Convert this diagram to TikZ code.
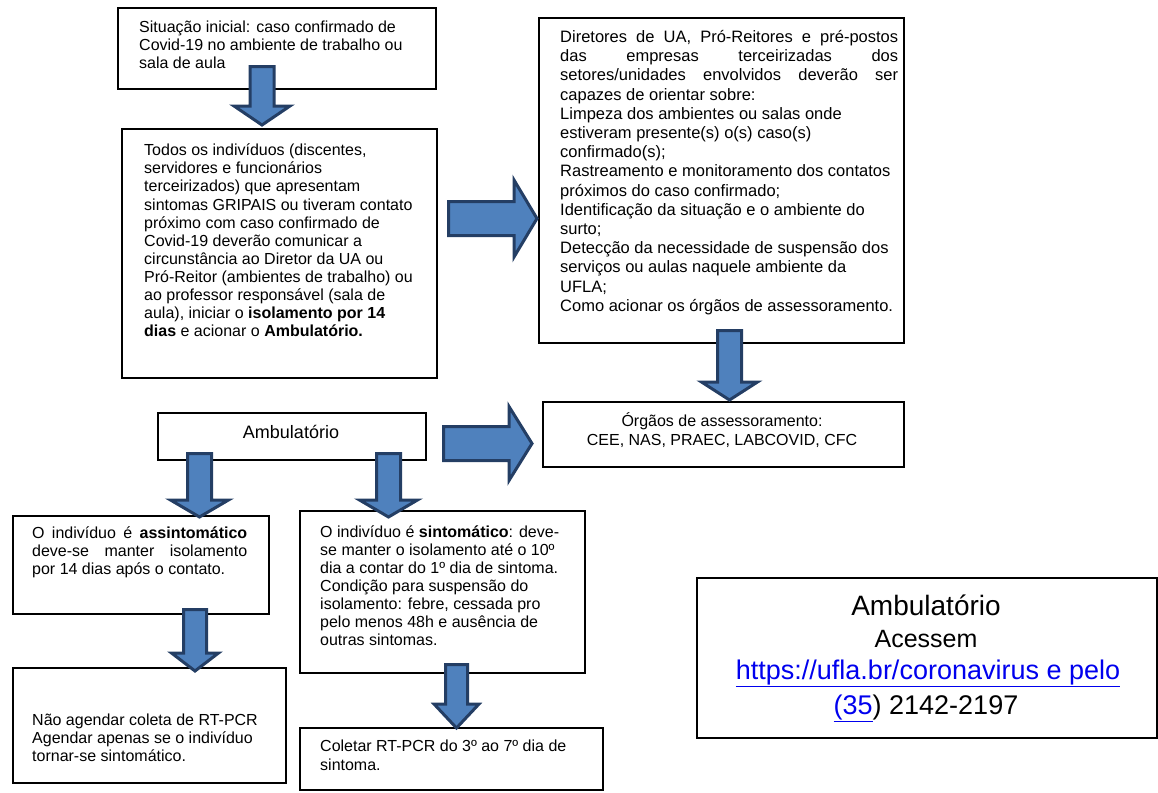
\documentclass[tikz,border=0pt]{standalone}
\usepackage{fontspec}
\setmainfont{Liberation Sans}
\usetikzlibrary{calc}
\definecolor{arrfill}{RGB}{79,129,189}
\definecolor{arrline}{RGB}{36,62,100}
\definecolor{linkblue}{RGB}{0,0,238}
\tikzset{
  box/.style={draw=black, line width=1.8pt, fill=white, inner sep=0pt, anchor=north west},
  txt/.style={anchor=base west, inner sep=0pt},
  ctxt/.style={anchor=base, inner sep=0pt, align=center},
  blockarrow/.style={draw=arrline, fill=arrfill, line width=3pt, line join=miter},
}
\newcommand\fs[2]{\fontsize{#1}{#2}\selectfont}
\newcommand\dnblock[5]{%
  \path[blockarrow] let \p1=(#1), \p2=(#2) in
    (\x1-#3pt,\y1) -- (\x1+#3pt,\y1) -- (\x1+#3pt,\y2+#5pt) -- (\x1+#4pt,\y2+#5pt)
    -- (\x1,\y2) -- (\x1-#4pt,\y2+#5pt) -- (\x1-#3pt,\y2+#5pt) -- cycle;}
\newcommand\rtblock[5]{%
  \path[blockarrow] let \p1=(#1), \p2=(#2) in
    (\x1,\y1+#3pt) -- (\x2-#5pt,\y1+#3pt) -- (\x2-#5pt,\y1+#4pt) -- (\x2,\y1)
    -- (\x2-#5pt,\y1-#4pt) -- (\x2-#5pt,\y1-#3pt) -- (\x1,\y1-#3pt) -- cycle;}
\newcommand\jline[1]{\makebox[\linewidth][s]{#1}}
\begin{document}
\begin{tikzpicture}[x=1pt,y=-1pt]
\useasboundingbox (0,0) rectangle (1158,792);
% boxes
\node[box, minimum width=318, minimum height=81] (b1) at (117,7) {};
\node[box, minimum width=315, minimum height=249] (b2) at (121,128) {};
\node[box, minimum width=365, minimum height=325] (b3) at (538,17) {};
\node[box, minimum width=361, minimum height=65] (org) at (542,401) {};
\node[box, minimum width=268, minimum height=47] (amb) at (157,412) {};
\node[box, minimum width=256, minimum height=98] (asy) at (12,515) {};
\node[box, minimum width=273, minimum height=115] (nao) at (12,667) {};
\node[box, minimum width=285, minimum height=162] (sin) at (299,510) {};
\node[box, minimum width=303, minimum height=62] (col) at (299,727) {};
\node[box, minimum width=460, minimum height=160] (info) at (696,577) {};
% texts
\node[txt] (t1) at (139,33) {\fs{16}{17.6}\parbox[t]{290pt}{\raggedright
Situação inicial: caso confirmado de\\Covid-19 no ambiente de trabalho ou\\sala de aula}};
\node[txt] (t2) at (144,155.7) {\fs{16}{18.1}\parbox[t]{290pt}{\raggedright
Todos os indivíduos (discentes,\\
servidores e funcionários\\
terceirizados) que apresentam\\
sintomas GRIPAIS ou tiveram contato\\
próximo com caso confirmado de\\
Covid-19 deverão comunicar a\\
circunstância ao Diretor da UA ou\\
Pró-Reitor (ambientes de trabalho) ou\\
ao professor responsável (sala de\\
aula), iniciar o \textbf{isolamento por 14}\\
\textbf{dias} e acionar o \textbf{Ambulatório.}}};
\node[txt] (t3) at (560,42.5) {\fs{16.5}{19.2}\parbox[t]{338pt}{\raggedright
\jline{Diretores de UA, Pró-Reitores e pré-postos}\\
\jline{das empresas terceirizadas dos}\\
\jline{setores/unidades envolvidos deverão ser}\\
capazes de orientar sobre:\\
Limpeza dos ambientes ou salas onde\\
estiveram presente(s) o(s) caso(s)\\
confirmado(s);\\
Rastreamento e monitoramento dos contatos\\
próximos do caso confirmado;\\
Identificação da situação e o ambiente do\\
surto;\\
Detecção da necessidade de suspensão dos\\
serviços ou aulas naquele ambiente da\\
UFLA;\\
Como acionar os órgãos de assessoramento.}};
\node[ctxt] (t4) at (722,426.7) {\fs{16}{19}\parbox[t]{350pt}{\centering
Órgãos de assessoramento:\\CEE, NAS, PRAEC, LABCOVID, CFC}};
\node[ctxt] (t5) at (291,438) {\fs{18}{20}Ambulatório};
\node[txt] (t6) at (32,538.3) {\fs{16}{18.3}\parbox[t]{215pt}{\raggedright
\jline{O indivíduo é \textbf{assintomático}}\\
\jline{deve-se manter isolamento}\\
por 14 dias após o contato.}};
\node[txt] (t7) at (32,725) {\fs{16}{18.3}\parbox[t]{250pt}{\raggedright
Não agendar coleta de RT-PCR\\
Agendar apenas se o indivíduo\\
tornar-se sintomático.}};
\node[txt] (t8) at (320,537.7) {\fs{16}{18}\parbox[t]{260pt}{\raggedright
O indivíduo é \textbf{sintomático}: deve-\\
se manter o isolamento até o 10º\\
dia a contar do 1º dia de sintoma.\\
Condição para suspensão do\\
isolamento: febre, cessada pro\\
pelo menos 48h e ausência de\\
outras sintomas.}};
\node[txt] (t9) at (320,751.7) {\fs{16}{18.3}\parbox[t]{270pt}{\raggedright
Coletar RT-PCR do 3º ao 7º dia de\\
sintoma.}};
\node[ctxt] (i1) at (926,615) {\fs{28}{30}Ambulatório};
\node[ctxt] (i2) at (926,647) {\fs{25}{27}Acessem};
\node[ctxt] (i3) at (928,679) {\fs{27}{29}\color{linkblue}\underline{https://ufla.br/coronavirus e pelo}};
\node[ctxt] (i4) at (926,714) {\fs{27}{29}{\color{linkblue}\underline{(35}}) 2142-2197};
% block arrows
\coordinate (a1s) at (262,66.5);   \coordinate (a1e) at (262,125);
\coordinate (a2s) at (448.5,218.5); \coordinate (a2e) at (537,218.5);
\coordinate (a3s) at (729.5,330.5); \coordinate (a3e) at (729.5,400);
\coordinate (a4s) at (443.5,443.5); \coordinate (a4e) at (532,443.5);
\coordinate (a5s) at (199.5,453.5); \coordinate (a5e) at (199.5,517);
\coordinate (a6s) at (388.5,453.5); \coordinate (a6e) at (388.5,517);
\coordinate (a7s) at (195,609.5);   \coordinate (a7e) at (195,671);
\coordinate (a8s) at (456.5,664.5); \coordinate (a8e) at (456.5,728);
\dnblock{a1s}{a1e}{12}{28}{19}
\rtblock{a2s}{a2e}{17}{38.5}{23}
\dnblock{a3s}{a3e}{12}{28}{18}
\rtblock{a4s}{a4e}{17}{37}{23}
\dnblock{a5s}{a5e}{12}{29}{17}
\dnblock{a6s}{a6e}{12}{29}{17}
\dnblock{a7s}{a7e}{11.5}{23.5}{18}
\dnblock{a8s}{a8e}{11}{22.5}{24}
\end{tikzpicture}
\end{document}
